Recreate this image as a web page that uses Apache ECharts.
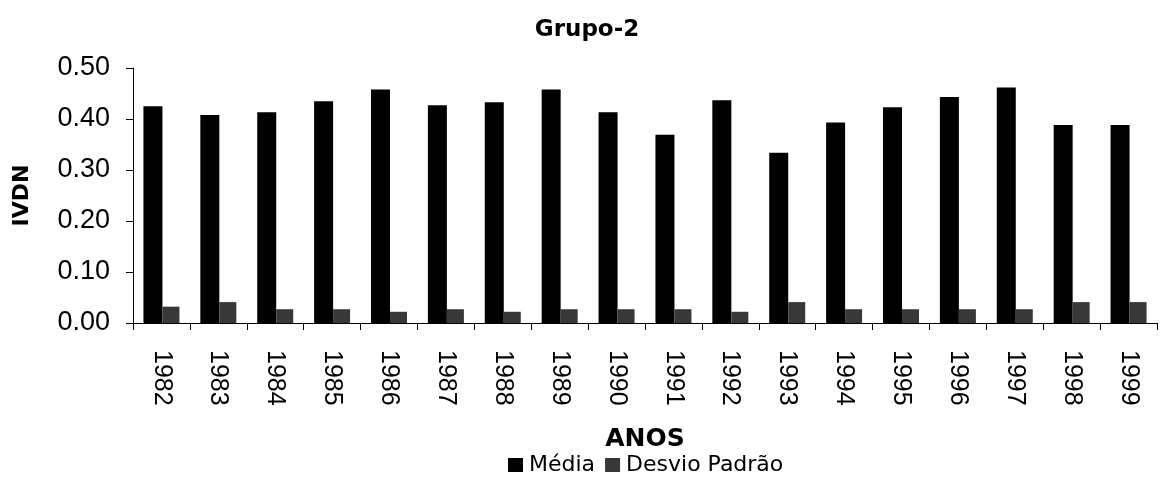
<!DOCTYPE html>
<html>
<head>
<meta charset="utf-8">
<script src="https://cdn.jsdelivr.net/npm/echarts@6/dist/echarts.min.js"></script>
<style>
html,body{margin:0;padding:0;background:#fff;}
#chart{width:1160px;height:489px;}
</style>
</head>
<body>
<div id="chart"></div>
<script>
const years = ['1982','1983','1984','1985','1986','1987','1988','1989','1990','1991','1992','1993','1994','1995','1996','1997','1998','1999'];
const media = [0.425,0.408,0.413,0.435,0.458,0.427,0.433,0.458,0.413,0.369,0.437,0.334,0.393,0.423,0.443,0.462,0.388,0.388];
const desvio = [0.032,0.041,0.027,0.027,0.022,0.027,0.022,0.027,0.027,0.027,0.022,0.041,0.027,0.027,0.027,0.027,0.041,0.041];
const yTicks = [0, 0.1, 0.2, 0.3, 0.4, 0.5];

const chart = echarts.init(document.getElementById('chart'), null, {renderer:'canvas'});
chart.setOption({
  animation: false,
  backgroundColor: '#ffffff',
  title: {
    text: 'Grupo-2',
    left: 582, top: 14, textAlign: 'center',
    textStyle: {fontFamily: 'DejaVu Sans', fontWeight: 'bold', fontSize: 23, color: '#000'}
  },
  legend: {
    bottom: 8, left: 503,
    itemWidth: 15, itemHeight: 14, itemGap: 10,
    icon: 'rect',
    textStyle: {fontFamily: 'DejaVu Sans', fontSize: 22, color: '#000', padding: [0,0,0,1]},
    data: ['Média', 'Desvio Padrão']
  },
  grid: {left: 133, right: 3, top: 68, bottom: 166, containLabel: false},
  xAxis: {
    type: 'category',
    data: years,
    name: 'ANOS',
    nameLocation: 'middle',
    nameGap: 104,
    nameTextStyle: {fontFamily: 'DejaVu Sans', fontWeight: 'bold', fontSize: 25, color: '#000'},
    axisLine: {lineStyle: {color: '#000', width: 1}},
    axisTick: {show: true, length: 7, lineStyle: {color: '#000'}},
    axisLabel: {rotate: -90, margin: 27, fontFamily: 'Liberation Sans', fontSize: 25, color: '#000'}
  },
  yAxis: {
    type: 'value',
    min: yTicks[0], max: yTicks[yTicks.length-1], interval: 0.1,
    name: 'IVDN',
    nameLocation: 'middle',
    nameGap: 100,
    nameRotate: 90,
    nameTextStyle: {fontFamily: 'DejaVu Sans', fontWeight: 'bold', fontSize: 22, color: '#000'},
    axisLine: {show: true, lineStyle: {color: '#000', width: 1}},
    axisTick: {show: true, length: 7, lineStyle: {color: '#000'}},
    splitLine: {show: false},
    axisLabel: {margin: 23, fontFamily: 'Liberation Sans', fontSize: 27, color: '#000',
      formatter: v => v.toFixed(2)}
  },
  series: [
    {name: 'Média', type: 'bar', data: media, barWidth: 19, barGap: '0%',
      itemStyle: {color: '#000000'}},
    {name: 'Desvio Padrão', type: 'bar', data: desvio, barWidth: 17,
      itemStyle: {color: '#383838'}}
  ]
});
</script>
</body>
</html>
